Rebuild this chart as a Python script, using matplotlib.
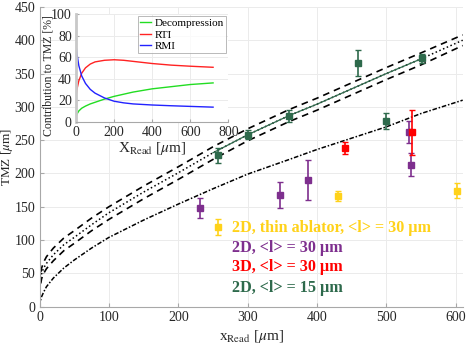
import matplotlib
matplotlib.use('Agg')
import matplotlib.pyplot as plt
import numpy as np

plt.rcParams['font.family'] = ['Liberation Serif', 'DejaVu Serif']
plt.rcParams['mathtext.fontset'] = 'stix'

# model curves
curve_x = [0, 1, 3, 6, 10, 20, 35, 50, 75, 100, 150, 200, 250, 300, 360, 400, 450, 500, 550, 610]
center = [0, 38, 50, 58, 65, 78, 93, 104, 123, 141, 172, 201, 231, 258, 287, 304, 327, 350, 372, 400]
upper = [0, 45, 58, 67, 75, 88, 103, 114, 133, 150, 181, 210, 240, 267, 296, 313, 336, 359, 381, 408]
lower = [0, 30, 42, 50, 57, 69, 84, 95, 114, 131, 162, 191, 221, 249, 278, 295, 318, 341, 363, 392]
dashdot = [0, 8, 15, 22, 30, 43, 58, 70, 88, 104, 130, 154, 177, 199, 221, 236, 253, 270, 290, 310]

# simulations
thin_x = [257, 430, 602]
thin_y = [120, 166, 174]
thin_err = [12, 8, 11]

d2_30_x = [231, 346, 387, 533, 536]
d2_30_y = [148, 167.5, 190, 262, 213]
d2_30_err = [15, 20, 30, 17, 17]

d3_30_x = [441, 537]
d3_30_y = [237.5, 262]
d3_30_err = [9, 34]

d2_15_x = [258, 300, 359, 459, 500, 551]
d2_15_y = [227, 258, 286, 366, 279, 373]
d2_15_err = [11, 7, 9, 20, 12, 7]

# inset: contributions
ins_x = [0, 5, 15, 30, 50, 75, 100, 150, 200, 250, 300, 400, 500, 600, 720]
decomp = [4, 7, 10, 12.5, 14.5, 16.5, 18, 21, 23.5, 25.5, 27.5, 30.5, 32.5, 34.5, 36]
rti = [23, 30, 38, 45, 50, 53.5, 55.5, 57, 57.5, 57, 56, 54, 52.5, 51.5, 50.5]
rmi = [72, 63, 52, 42.5, 35.5, 30, 26.5, 22, 19, 17.5, 16.5, 15.5, 14.8, 14.2, 13.5]

YELLOW = '#FFD21A'
PURPLE = '#7E2F8E'
RED = '#FF0000'
GREEN = '#2E6A4C'
GRAYAX = '#a8a8a8'
TXT = '#262626'

fig = plt.figure(figsize=(4.67, 3.49), dpi=100)
ax = fig.add_axes([0.0846, 0.1212, 0.9062, 0.859])

ax.plot(curve_x, upper, '--', color='k', lw=1.2, dashes=(4, 3))
ax.plot(curve_x, lower, '--', color='k', lw=1.2, dashes=(4, 3))
ax.plot(curve_x, center, ':', color='k', lw=1.1)
ax.plot(curve_x, dashdot, '-.', color='k', lw=1.1, dashes=(3, 1.2, 1, 1.2))

cx = [x for x in curve_x if 250 <= x <= 550]
cy = [y for x, y in zip(curve_x, center) if 250 <= x <= 550]
ax.plot(cx, cy, '-', color=GREEN, lw=0.9)

for xs, ys, es, c in [(thin_x, thin_y, thin_err, YELLOW),
                      (d2_30_x, d2_30_y, d2_30_err, PURPLE),
                      (d3_30_x, d3_30_y, d3_30_err, RED),
                      (d2_15_x, d2_15_y, d2_15_err, GREEN)]:
    ax.errorbar(xs, ys, yerr=es, fmt='s', color=c, ms=4, elinewidth=1.2,
                capsize=2, capthick=1)

ax.set_xlim(0, 610)
ax.set_ylim(0, 450)
ax.set_xticks(range(0, 601, 100))
ax.set_yticks(range(0, 451, 50))
ax.grid(True, color='#ebebeb', lw=0.7)
ax.set_axisbelow(True)
for s in ['top', 'right']:
    ax.spines[s].set_visible(False)
for s in ['left', 'bottom']:
    ax.spines[s].set_color(GRAYAX)
ax.tick_params(direction='in', length=3, color=GRAYAX, labelsize=10, labelcolor=TXT, pad=3)
ax.set_xlabel(r'x$_{\rm Read}$ [$\mu$m]', fontsize=11, color=TXT, labelpad=3)
ax.set_ylabel(r'TMZ [$\mu$m]', fontsize=9.5, color=TXT)
ax.yaxis.set_label_coords(-0.057, 0.5)

labels = ['2D, thin ablator, <l> = 30 µm', '2D, <l> = 30 µm', '3D, <l> = 30 µm', '2D, <l> = 15 µm']
cols = [YELLOW, PURPLE, RED, GREEN]
ypos = [0.2616, 0.197, 0.1315, 0.0634]
for t, c, yy in zip(labels, cols, ypos):
    ax.text(0.455, yy, t, color=c, fontsize=11.6, fontweight='bold', transform=ax.transAxes,
            ha='left', va='center')

# inset
ins = fig.add_axes([0.1627, 0.6513, 0.3262, 0.3087])
ins.plot(ins_x, decomp, color='#22dd22', lw=1, label='Decompression')
ins.plot(ins_x, rti, color='#ff2222', lw=1, label='RTI')
ins.plot(ins_x, rmi, color='#2222ff', lw=1, label='RMI')
ins.set_xlim(0, 800)
ins.set_ylim(0, 100)
ins.set_xticks(range(0, 801, 200))
ins.set_yticks(range(0, 101, 20))
ins.grid(True, color='#ebebeb', lw=0.7)
for s in ['top', 'right']:
    ins.spines[s].set_visible(False)
ins.spines['left'].set_color('#c8c8c8')
ins.spines['left'].set_linewidth(2)
ins.spines['bottom'].set_color(GRAYAX)
ins.tick_params(direction='in', length=2, color=GRAYAX, labelsize=10, labelcolor=TXT, pad=3)
ins.set_xlabel(r'X$_{\rm Read}$ [$\mu$m]', fontsize=11, color=TXT, labelpad=1)
ins.set_ylabel('Contribution to TMZ [%]', fontsize=8.5, color=TXT)
ins.yaxis.set_label_coords(-0.14, 0.43)
leg = ins.legend(loc='upper right', fontsize=8, handlelength=1.0, handletextpad=0.3,
                 borderpad=0.2, labelspacing=0.15, fancybox=False, borderaxespad=0.2)
leg.get_frame().set_edgecolor(GRAYAX)
leg.get_frame().set_linewidth(0.7)

fig.savefig('out.png', dpi=100)
